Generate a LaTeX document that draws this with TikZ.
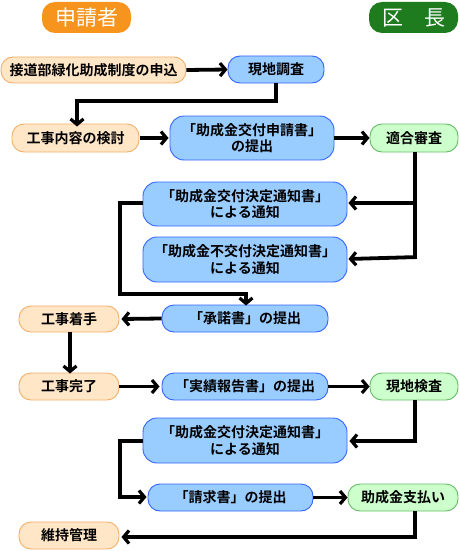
\documentclass[tikz,border=0pt]{standalone}
\usepackage{fontspec}
\setmainfont{Noto Sans CJK JP}[BoldFont=* Bold]
\usetikzlibrary{arrows.meta}
\definecolor{hdorange}{HTML}{F7941D}
\definecolor{hdgreen}{HTML}{1E7B1E}
\definecolor{orfill}{HTML}{FFE6C6}
\definecolor{ordraw}{HTML}{F2B06A}
\definecolor{blfill}{HTML}{99CCFF}
\definecolor{bldraw}{HTML}{3366FF}
\definecolor{grfill}{HTML}{CCFFCC}
\definecolor{grdraw}{HTML}{66BB66}
\tikzset{
  bx/.style={rounded corners=12pt, line width=0.9pt, inner sep=0pt, align=center,
    font=\fontsize{14}{16.5}\selectfont\bfseries},
  orbox/.style={bx, fill=orfill, draw=ordraw},
  blbox/.style={bx, fill=blfill, draw=bldraw},
  grbox/.style={bx, fill=grfill, draw=grdraw},
  hdr/.style={rounded corners=13pt, inner sep=0pt, text=white, font=\fontsize{21}{23}\selectfont,
    minimum width=89pt, minimum height=31pt},
  sz/.style 2 args={minimum width=#1pt, minimum height=#2pt},
  flow/.style={line width=3.8pt, -{Straight Barb[length=5.5pt,width=13pt,line width=3.2pt]}},
  seg/.style={line width=3.8pt}
}
\begin{document}
\begin{tikzpicture}[x=1pt,y=-1pt]
\useasboundingbox[fill=white] (0,0) rectangle (460,551);
% headers
\node[hdr, fill=hdorange] (hA) at (86.5,17.5) {申請者};
\node[hdr, fill=hdgreen] (hB) at (413.5,17.5) {区　長};
% boxes
\node[orbox, sz={185}{26}] (n1) at (93.5,70) {接道部緑化助成制度の申込};
\node[blbox, sz={96}{27}] (n2) at (276,69.5) {現地調査};
\node[orbox, sz={127}{28}] (n3) at (75.5,138) {工事内容の検討};
\node[blbox, sz={164}{44}, rounded corners=14pt] (n4) at (252,138) {「助成金交付申請書」\\の提出};
\node[grbox, sz={88}{28}] (n5) at (414,138) {適合審査};
\node[blbox, sz={204}{44}, rounded corners=14pt] (n6) at (245,204) {「助成金交付決定通知書」\\による通知};
\node[blbox, sz={204}{45}, rounded corners=14pt] (n7) at (245,259.5) {「助成金不交付決定通知書」\\による通知};
\node[blbox, sz={166}{27}] (n8) at (245,318.5) {「承諾書」の提出};
\node[orbox, sz={100}{26}] (n9) at (69,319) {工事着手};
\node[orbox, sz={100}{27}] (n10) at (69,386.5) {工事完了};
\node[blbox, sz={166}{27}] (n11) at (245,386.5) {「実績報告書」の提出};
\node[grbox, sz={88}{27}] (n12) at (414,386.5) {現地検査};
\node[blbox, sz={204}{45}, rounded corners=14pt] (n13) at (245,440.5) {「助成金交付決定通知書」\\による通知};
\node[blbox, sz={165}{27}] (n14) at (230.5,497.5) {「請求書」の提出};
\node[grbox, sz={110}{27}] (n15) at (403,497.5) {助成金支払い};
\node[orbox, sz={100}{27}] (n16) at (69,535.5) {維持管理};
% coordinates
\coordinate (c1) at (276,101);
\coordinate (c2) at (77,101);
\coordinate (c3) at (415,259);
\coordinate (c4) at (415,203);
\coordinate (c5) at (120,203);
\coordinate (c6) at (120,294);
\coordinate (c7) at (246,294);
\coordinate (c8) at (415,441);
\coordinate (c9) at (120,441);
\coordinate (c10) at (120,497);
\coordinate (c11) at (415,537);
% connectors
\draw[flow] (n1.east) -- (n2.west);
\draw[flow] (n2.south -| c1) -- (c1) -- (c2) -- ([yshift=-3pt]n3.north -| c2);
\draw[flow] (n3.east) ++(1,0) -- ([xshift=-1pt]n4.west);
\draw[flow] (n4.east) -- (n5.west);
\draw[seg] (n5.south -| c4) -- (c3);
\draw[flow] (c4) -- ([xshift=1pt]n6.east |- c4);
\draw[flow] ([yshift=1.9pt]c3) -- ([xshift=1pt]n7.east |- c3);
\draw[flow] (n6.west |- c5) -- (c5) -- (c6) -- (c7) -- ([yshift=-1pt]n8.north -| c7);
\draw[flow] (n8.west) -- ([xshift=2pt]n9.east);
\draw[flow] (n9.south -| 70,0) -- ([yshift=-1pt]n10.north -| 70,0);
\draw[flow] (n10.east) -- ([xshift=-2pt]n11.west);
\draw[flow] (n11.east) -- (n12.west);
\draw[flow] (n12.south -| c8) -- (c8) -- ([xshift=2pt]n13.east |- c8);
\draw[flow] (n13.west |- c9) -- (c9) -- (c10) -- ([xshift=-1pt]n14.west |- c10);
\draw[flow] (n14.east) -- (n15.west);
\draw[flow] (n15.south -| c11) -- (c11) -- ([xshift=2pt]n16.east |- c11);
\end{tikzpicture}
\end{document}
